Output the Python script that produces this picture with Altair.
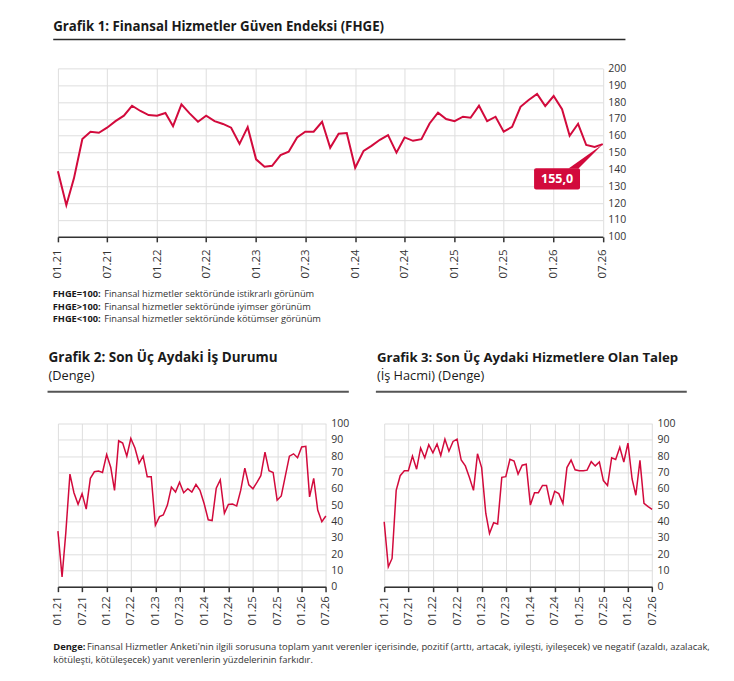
import altair as alt
import pandas as pd

# ---------------- data ----------------
months = pd.date_range("2021-01-01", "2026-07-01", freq="MS").strftime("%Y-%m-%d").tolist()

fhge = [139.0, 118.8, 134.7, 158.0, 162.4, 161.8, 164.8, 168.7, 171.9, 177.8, 174.7, 172.3,
        171.9, 173.5, 165.7, 178.6, 173.3, 168.3, 171.9, 168.7, 167.0, 164.8, 155.2, 165.1,
        146.0, 141.6, 142.2, 148.5, 150.5, 159.0, 162.4, 162.4, 168.3, 152.9, 161.2, 161.6,
        141.0, 151.0, 154.0, 157.6, 160.4, 150.0, 159.0, 157.0, 158.0, 167.3, 173.7, 169.9,
        168.7, 171.3, 170.7, 177.8, 168.7, 171.3, 162.4, 165.3, 177.2, 181.2, 184.8, 177.6,
        183.6, 175.8, 160.0, 167.1, 154.5, 153.3, 155.0]

is_durumu = [34, 6, 33, 69, 57.6, 50.5, 57, 47.5, 66.4, 70.4, 70.8, 70,
             81, 73, 59, 89.4, 88, 80, 90.8, 85, 75.6, 80, 67.4, 67.4,
             37.6, 42.9, 43.9, 50, 61, 58, 64, 57.6, 60, 58, 62.6, 59,
             51, 41, 40.5, 60.4, 65.4, 45, 50.4, 50.6, 49.4, 59, 72.6, 62.4,
             60, 64, 68, 82.4, 71, 70, 53, 55.6, 68, 80, 81.4, 79,
             85.6, 86, 55, 66.4, 47, 39.8, 43.3]

talep = [39.8, 12.2, 17.3, 59, 68, 71, 71, 80, 72, 85, 79, 87,
         82, 87.4, 80.4, 90.4, 83, 89, 90.4, 77.6, 74, 67, 59, 81.4,
         73, 45, 32.6, 39.2, 38.4, 67, 67.4, 78, 77, 69, 74.4, 75,
         50, 57.6, 57.6, 62, 62, 50, 58.4, 57, 51, 73, 77.6, 71.6,
         71, 71, 71.4, 76.6, 74, 76.4, 65, 62, 79, 78, 85.4, 76.4,
         88, 66, 56, 77.4, 51, 49, 47.4]

tick_months = [(y, m) for y in range(2021, 2027) for m in (1, 7)]
y1_ticks = list(range(100, 201, 10))
y2_ticks = list(range(0, 101, 10))

title1 = "Grafik 1: Finansal Hizmetler Güven Endeksi (FHGE)"
title2 = "Grafik 2: Son Üç Aydaki İş Durumu"
sub2 = "(Denge)"
title3 = "Grafik 3: Son Üç Aydaki Hizmetlere Olan Talep"
sub3 = " (İş Hacmi) (Denge)"
notes = [("FHGE=100:", "Finansal hizmetler sektöründe istikrarlı görünüm"),
         ("FHGE>100:", "Finansal hizmetler sektöründe iyimser görünüm"),
         ("FHGE<100:", "Finansal hizmetler sektöründe kötümser görünüm")]
foot_bold = "Denge:"
foot_1 = "Finansal Hizmetler Anketi'nin ilgili sorusuna toplam yanıt verenler içerisinde, pozitif (arttı, artacak, iyileşti, iyileşecek) ve negatif (azaldı, azalacak,"
foot_2 = "kötüleşti, kötüleşecek) yanıt verenlerin yüzdelerinin farkıdır."

# ---------------- style ----------------
FONT = "Open Sans"
RED = "#d20a3c"
GRID = "#dedede"
DARK = "#333333"
TXT = "#1a1a1a"

one = pd.DataFrame({"k": [0]})

def dt(y, m):
    return alt.DateTime(year=y, month=m, date=1, utc=True)

x_scale = alt.Scale(type="utc", domain=[dt(2021, 1), dt(2026, 7)], nice=False)

def axis_x(size, pad):
    return alt.Axis(values=[dt(y, m) for y, m in tick_months],
                    labelExpr="utcFormat(datum.value, '%m.%y')",
                    labelAngle=270, labelFont=FONT, labelFontSize=size, labelColor=DARK,
                    labelPadding=pad, labelFlush=False, labelOverlap=False,
                    grid=True, gridColor=GRID, gridWidth=1,
                    domain=True, domainColor=DARK, domainWidth=1.5,
                    ticks=True, tickColor=DARK, tickSize=5, tickWidth=1.5, title=None)

def axis_y(vals, size):
    return alt.Axis(orient="right", values=vals, labelFont=FONT, labelFontSize=size,
                    labelColor=DARK, labelPadding=5, labelFlush=False, labelOverlap=False,
                    grid=True, gridColor=GRID, gridWidth=1, domain=False, ticks=False, title=None)

def txt(s, x, y, size, weight="normal", color=TXT):
    return alt.Chart(one).mark_text(text=s, font=FONT, fontSize=size, fontWeight=weight,
                                    color=color, align="left", baseline="alphabetic").encode(
        x=alt.value(x), y=alt.value(y))

def hrule(x1, x2, y, color, w):
    return alt.Chart(one).mark_rule(color=color, strokeWidth=w).encode(
        x=alt.value(x1), x2=alt.value(x2), y=alt.value(y))

def blank(x, y):
    return alt.Chart(one).mark_rect(color="white").encode(
        x=alt.value(x), x2=alt.value(x + 1), y=alt.value(y), y2=alt.value(y + 1))

# ---------------- chart 1 ----------------
W1, H1 = 545.6, 168.7
df1 = pd.DataFrame({"date": months, "value": fhge})
last = df1.tail(1)

X1 = alt.X("date:T", scale=x_scale, axis=axis_x(11.5, 7))
Y1 = alt.Y("value:Q", scale=alt.Scale(domain=[100, 200], nice=False, zero=False),
           axis=axis_y(y1_ticks, 10.5))

line1 = alt.Chart(df1).mark_line(color=RED, strokeWidth=2).encode(x=X1, y=Y1)

tail = alt.Chart(last).mark_point(shape="M0,0L-3.43,2.44L-2.43,2.44Z", size=400, filled=True,
                                  color=RED, opacity=1, strokeWidth=0).encode(x=X1, y=Y1)
box = alt.Chart(last).mark_rect(color=RED, cornerRadius=2, xOffset=-68.8, x2Offset=-22.8,
                                yOffset=24.0, y2Offset=45.5).encode(
    x=X1, x2="date:T", y=Y1, y2="value:Q")
box_text = alt.Chart(last).transform_calculate(
    lbl="replace(format(datum.value, '.1f'), '.', ',')").mark_text(
    font=FONT, fontSize=12.5, fontWeight="bold", color="white", align="center",
    baseline="middle", dx=-45.8, dy=35.3).encode(x=X1, y=Y1, text="lbl:N")

layers1 = [line1, tail, box, box_text,
           blank(-57.7, -68), blank(675.3, 612),
           txt(title1, -4.7, -37, 13.3, "bold"),
           hrule(-4.7, 568.3, -29, "#2a2a2a", 1.5)]
for i, (b, r) in enumerate(notes):
    yy = 229 + 12.5 * i
    layers1.append(txt(b, -5.2, yy, 9.3, "bold"))
    layers1.append(txt(r, 46.3, yy, 9.3, "normal", DARK))
top = alt.layer(*layers1).properties(width=W1, height=H1)

# ---------------- charts 2 & 3 ----------------
W2, H2 = 268.3, 163.4

def small(values, title, tsize, sub, rule_x2, extra=None, tx=-9.4):
    df = pd.DataFrame({"date": months, "value": values})
    ln = alt.Chart(df).mark_line(color=RED, strokeWidth=1.5).encode(
        x=alt.X("date:T", scale=x_scale, axis=axis_x(11.5, 4)),
        y=alt.Y("value:Q", scale=alt.Scale(domain=[0, 100], nice=False),
                axis=axis_y(y2_ticks, 10.5)))
    ls = [ln, txt(title, tx, -61.3, tsize, "bold"), txt(sub, tx, -43.3, 12.8, "normal"),
          hrule(tx - 1, rule_x2, -31.8, "#555555", 2)]
    if extra:
        ls += extra
    return alt.layer(*ls).properties(width=W2, height=H2)

footer = [txt(foot_bold, -4.7, 226.7, 9.4, "bold"),
          txt(foot_1, 29.0, 226.7, 9.4, "normal", DARK),
          txt(foot_2, -4.7, 239.7, 9.4, "normal", DARK)]

c2 = small(is_durumu, title2, 13.5, sub2, 291.3, footer, tx=-9.4)
c3 = small(talep, title3, 13.2, sub3, 303.0, None, tx=-7.3)

chart = alt.vconcat(
    top,
    alt.hconcat(c2, c3, spacing=57.7, bounds="flush"),
    spacing=186.6, bounds="flush"
).properties(padding=0, background="white").configure_view(stroke=None)

chart.save("out.html", embed_options={"renderer": "svg", "actions": False})
